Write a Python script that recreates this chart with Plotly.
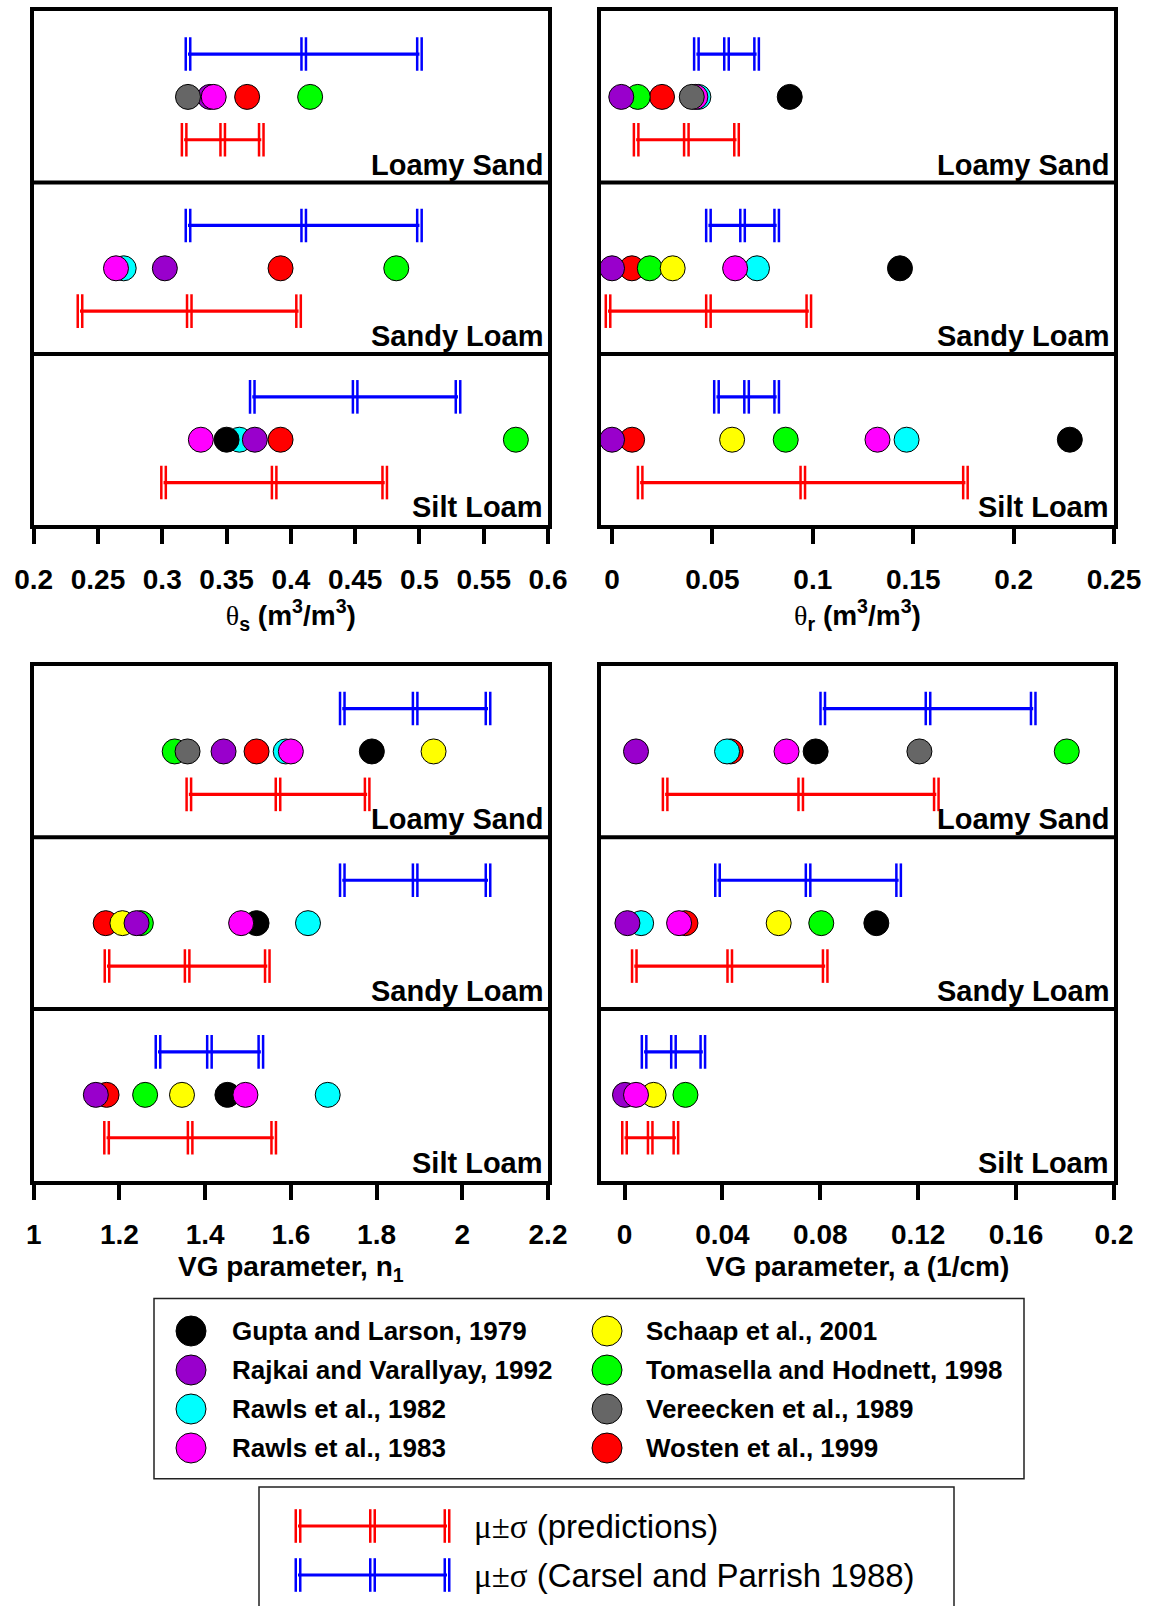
import plotly.graph_objects as go

W, H = 1151, 1606
FONT = "Liberation Sans, Arial, sans-serif"
SERIF = "Liberation Serif, Times New Roman, serif"

TEXTURES = ["Loamy Sand", "Sandy Loam", "Silt Loam"]
MODELS = [
    "Gupta and Larson, 1979",
    "Rajkai and Varallyay, 1992",
    "Rawls et al., 1982",
    "Rawls et al., 1983",
    "Schaap et al., 2001",
    "Tomasella and Hodnett, 1998",
    "Vereecken et al., 1989",
    "Wosten et al., 1999",
]
MODEL_COLORS = ["#000000", "#9900CC", "#00FFFF", "#FF00FF",
                "#FFFF00", "#00FF00", "#666666", "#FF0000"]
# drawing order of the model dots, back to front
DRAW_ORDER = [7, 5, 4, 2, 0, 1, 3, 6]

# Pedotransfer estimates: rows follow MODELS, columns follow TEXTURES
THETA_S = [
    [None, None, 0.350],
    [0.337, 0.302, 0.372],
    [None, 0.270, 0.360],
    [0.340, 0.264, 0.330],
    [None, None, None],
    [0.415, 0.482, 0.575],
    [0.320, None, None],
    [0.366, 0.392, 0.392],
]
THETA_R = [
    [0.0885, 0.1434, 0.228],
    [0.0046, 0.0, 0.0],
    [0.0430, 0.0722, 0.1467],
    [0.0415, 0.0613, 0.1322],
    [None, 0.0302, 0.0598],
    [0.0128, 0.0188, 0.0865],
    [0.0397, None, None],
    [0.0249, 0.0099, 0.0100],
]
N_VG = [
    [1.789, 1.520, 1.452],
    [1.443, 1.240, 1.145],
    [1.588, 1.640, 1.686],
    [1.600, 1.484, 1.494],
    [1.933, 1.207, 1.346],
    [1.329, 1.250, 1.260],
    [1.359, None, None],
    [1.520, 1.168, 1.170],
]
ALPHA_VG = [
    [0.0781, 0.1029, None],
    [0.0047, 0.0012, 0.0002],
    [0.0419, 0.0068, None],
    [0.0662, 0.0223, 0.0047],
    [None, 0.0630, 0.0119],
    [0.1807, 0.0804, 0.0249],
    [0.1205, None, None],
    [0.0434, 0.0249, None],
]

# mean and standard deviation of the predictions, per texture
PRED_THETA_S_MEAN = [0.347, 0.321, 0.387]
PRED_THETA_S_SD = [0.030, 0.085, 0.086]
PRED_THETA_R_MEAN = [0.037, 0.048, 0.095]
PRED_THETA_R_SD = [0.025, 0.050, 0.081]
PRED_N_MEAN = [1.570, 1.358, 1.365]
PRED_N_SD = [0.208, 0.187, 0.195]
PRED_ALPHA_MEAN = [0.072, 0.043, 0.0105]
PRED_ALPHA_SD = [0.0554, 0.039, 0.0105]

# Carsel and Parrish (1988) class statistics
CP_THETA_S_MEAN = [0.41, 0.41, 0.45]
CP_THETA_S_SD = [0.09, 0.09, 0.08]
CP_THETA_R_MEAN = [0.057, 0.065, 0.067]
CP_THETA_R_SD = [0.015, 0.017, 0.015]
CP_N_MEAN = [1.89, 1.89, 1.41]
CP_N_SD = [0.17, 0.17, 0.12]
CP_ALPHA_MEAN = [0.124, 0.075, 0.020]
CP_ALPHA_SD = [0.043, 0.037, 0.012]

# tick labels
TICKS_THETA_S = ["0.2", "0.25", "0.3", "0.35", "0.4", "0.45", "0.5", "0.55", "0.6"]
TICKS_THETA_R = ["0", "0.05", "0.1", "0.15", "0.2", "0.25"]
TICKS_N = ["1", "1.2", "1.4", "1.6", "1.8", "2", "2.2"]
TICKS_ALPHA = ["0", "0.04", "0.08", "0.12", "0.16", "0.2"]

PRED_COLOR = "#FF0000"
CP_COLOR = "#0000FF"


def px_x(v):
    return v / W


def px_y(v):
    return 1 - v / H


fig = go.Figure()


def add_bar(xs, ys, color, xa, ya):
    """mu-sigma bar drawn with double tick marks at each point."""
    fig.add_trace(go.Scatter(
        x=xs, y=ys, xaxis=xa, yaxis=ya, mode="markers", hoverinfo="skip",
        marker=dict(symbol="line-ns", size=24, color=color,
                    line=dict(color=color, width=7))))
    fig.add_trace(go.Scatter(
        x=xs, y=ys, xaxis=xa, yaxis=ya, mode="markers", hoverinfo="skip",
        marker=dict(symbol="line-ns", size=26, color="white",
                    line=dict(color="white", width=2))))
    fig.add_trace(go.Scatter(
        x=xs, y=ys, xaxis=xa, yaxis=ya, mode="lines", hoverinfo="skip",
        line=dict(color=color, width=3.2)))


THETA = '<span style="font-family:Liberation Serif;font-weight:normal">θ</span>'

panels = [
    dict(ax="", data=THETA_S, pm=PRED_THETA_S_MEAN, ps=PRED_THETA_S_SD,
         cm=CP_THETA_S_MEAN, cs=CP_THETA_S_SD, rng=[0.2, 0.6],
         ticks=TICKS_THETA_S,
         title=THETA + "<sub>s</sub> (m<sup>3</sup>/m<sup>3</sup>)",
         xd=(33.7, 548), yd=(11.2, 525.4)),
    dict(ax="2", data=THETA_R, pm=PRED_THETA_R_MEAN, ps=PRED_THETA_R_SD,
         cm=CP_THETA_R_MEAN, cs=CP_THETA_R_SD, rng=[-0.0055, 0.25],
         ticks=TICKS_THETA_R,
         title=THETA + "<sub>r</sub> (m<sup>3</sup>/m<sup>3</sup>)",
         xd=(601, 1114), yd=(11.2, 525.4)),
    dict(ax="3", data=N_VG, pm=PRED_N_MEAN, ps=PRED_N_SD,
         cm=CP_N_MEAN, cs=CP_N_SD, rng=[1.0, 2.2],
         ticks=TICKS_N,
         title="VG parameter, n<sub>1</sub>",
         xd=(33.7, 548), yd=(665.6, 1180.7)),
    dict(ax="4", data=ALPHA_VG, pm=PRED_ALPHA_MEAN, ps=PRED_ALPHA_SD,
         cm=CP_ALPHA_MEAN, cs=CP_ALPHA_SD, rng=[-0.0096, 0.2],
         ticks=TICKS_ALPHA,
         title="VG parameter, a (1/cm)",
         xd=(601, 1114), yd=(665.6, 1180.7)),
]

layout_axes = {}
annotations = []
shapes = []

for p in panels:
    xa, ya = "x" + p["ax"], "y" + p["ax"]
    n_rows = len(TEXTURES)
    for i, tex in enumerate(TEXTURES):
        yc = n_rows - 0.5 - i
        # Carsel and Parrish bar above, prediction bar below
        m, s = p["cm"][i], p["cs"][i]
        add_bar([m - s, m, m + s], [yc + 0.25] * 3, CP_COLOR, xa, ya)
        m, s = p["pm"][i], p["ps"][i]
        add_bar([m - s, m, m + s], [yc - 0.25] * 3, PRED_COLOR, xa, ya)
        annotations.append(dict(
            text=tex, xref=xa + " domain", yref=ya, x=1, y=n_rows - 1 - i,
            xanchor="right", yanchor="bottom", xshift=-3, yshift=0,
            showarrow=False, font=dict(family=FONT, size=29, color="black", weight="bold")))
        if i > 0:
            shapes.append(dict(type="line", xref=xa + " domain", yref=ya,
                               x0=0, x1=1, y0=n_rows - i, y1=n_rows - i,
                               line=dict(color="black", width=4)))
    for k in DRAW_ORDER:
        xs, ys = [], []
        for i in range(n_rows):
            v = p["data"][k][i]
            if v is not None:
                xs.append(v)
                ys.append(n_rows - 0.5 - i)
        if xs:
            fig.add_trace(go.Scatter(
                x=xs, y=ys, xaxis=xa, yaxis=ya, mode="markers", name=MODELS[k],
                marker=dict(size=25, color=MODEL_COLORS[k],
                            line=dict(color="black", width=1))))
    tickvals = [float(t) for t in p["ticks"]]
    layout_axes["xaxis" + p["ax"]] = dict(
        domain=[px_x(p["xd"][0]), px_x(p["xd"][1])], range=p["rng"],
        anchor=ya, showgrid=False, zeroline=False, automargin=False,
        showline=True, linecolor="black", linewidth=4, mirror=True,
        ticks="outside", ticklen=15, tickwidth=4, tickcolor="black",
        ticklabelstandoff=11,
        tickvals=tickvals, ticktext=p["ticks"],
        tickfont=dict(family=FONT, size=28, color="black", weight="bold"),
        title=dict(text=p["title"], standoff=8,
                   font=dict(family=FONT, size=28, color="black", weight="bold")))
    layout_axes["yaxis" + p["ax"]] = dict(
        domain=[px_y(p["yd"][1]), px_y(p["yd"][0])], range=[0, n_rows],
        anchor=xa, showgrid=False, zeroline=False, showticklabels=False,
        automargin=False,
        showline=True, linecolor="black", linewidth=4, mirror=True, ticks="")

# overlay axes in pixel units for the two key boxes
layout_axes["xaxis5"] = dict(domain=[0, 1], range=[0, W], visible=False,
                             anchor="y5", automargin=False)
layout_axes["yaxis5"] = dict(domain=[0, 1], range=[H, 0], visible=False,
                             anchor="x5", automargin=False)

shapes.append(dict(type="rect", xref="x5", yref="y5", x0=154, x1=1024, y0=1298.5, y1=1478.7,
                   line=dict(color="#222222", width=1.5), fillcolor="rgba(0,0,0,0)"))
shapes.append(dict(type="rect", xref="x5", yref="y5", x0=259, x1=954, y0=1487, y1=1640,
                   line=dict(color="#222222", width=1.5), fillcolor="rgba(0,0,0,0)"))

key_cols_marker = [191, 607]
key_cols_text = [230, 644]
key_rows = [1331, 1370, 1409, 1448]
for k, name in enumerate(MODELS):
    c, r = divmod(k, 4)
    fig.add_trace(go.Scatter(
        x=[key_cols_marker[c]], y=[key_rows[r]], xaxis="x5", yaxis="y5",
        mode="markers", hoverinfo="skip",
        marker=dict(size=30, color=MODEL_COLORS[k], line=dict(color="black", width=1))))
    annotations.append(dict(
        text=name, xref="x5", yref="y5", x=key_cols_text[c], y=key_rows[r],
        xanchor="left", yanchor="middle", showarrow=False,
        font=dict(family=FONT, size=26, color="black", weight="bold")))

key_bar_x = [298, 372.5, 447]
key_bar_rows = [(1526, PRED_COLOR, "(predictions)"),
                (1575, CP_COLOR, "(Carsel and Parrish 1988)")]
for y, col, label in key_bar_rows:
    add_bar(key_bar_x, [y] * 3, col, "x5", "y5")
    annotations.append(dict(
        text=f'<span style="font-family:{SERIF}">μ±σ</span> {label}',
        xref="x5", yref="y5", x=472, y=y, xanchor="left", yanchor="middle",
        showarrow=False, font=dict(family=FONT, size=33, color="black")))

fig.update_layout(
    width=W, height=H, margin=dict(l=0, r=0, t=0, b=0, autoexpand=False),
    paper_bgcolor="white", plot_bgcolor="rgba(0,0,0,0)", showlegend=False,
    annotations=annotations, shapes=shapes, **layout_axes)

fig.write_html("out.html")
